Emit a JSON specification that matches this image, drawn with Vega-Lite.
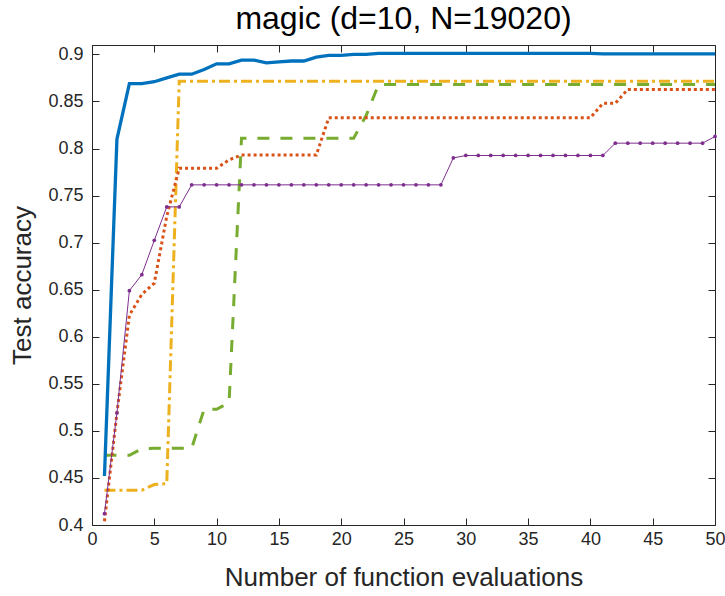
{
  "$schema": "https://vega.github.io/schema/vega-lite/v6.json",
  "width": 623,
  "height": 480,
  "autosize": {"type": "none"},
  "padding": {"left": 92, "top": 45, "right": 10, "bottom": 71},
  "background": "white",
  "title": {"text": "magic (d=10, N=19020)", "font": "Liberation Sans", "fontSize": 32, "fontWeight": "normal", "color": "#000000", "offset": 9, "anchor": "middle"},
  "config": {
    "view": {"stroke": "#262626", "strokeWidth": 1},
    "axis": {"grid": false, "labelFlush": false, "domainColor": "#262626", "tickColor": "#262626", "labelColor": "#262626", "titleColor": "#262626", "labelFont": "Liberation Sans", "titleFont": "Liberation Sans", "labelFontSize": 18, "titleFontSize": 26, "titleFontWeight": "normal", "tickSize": -7, "tickWidth": 1, "domainWidth": 1}
  },
  "datasets": {
    "blue": [
      {"x":1,"y":0.452},{"x":2,"y":0.810},{"x":3,"y":0.869},{"x":4,"y":0.869},{"x":5,"y":0.871},{"x":6,"y":0.875},{"x":7,"y":0.879},{"x":8,"y":0.879},{"x":9,"y":0.884},{"x":10,"y":0.890},
      {"x":11,"y":0.890},{"x":12,"y":0.894},{"x":13,"y":0.894},{"x":14,"y":0.891},{"x":15,"y":0.892},{"x":16,"y":0.893},{"x":17,"y":0.893},{"x":18,"y":0.897},{"x":19,"y":0.899},{"x":20,"y":0.899},
      {"x":21,"y":0.900},{"x":22,"y":0.900},{"x":23,"y":0.901},{"x":24,"y":0.901},{"x":25,"y":0.901},{"x":26,"y":0.901},{"x":27,"y":0.901},{"x":28,"y":0.901},{"x":29,"y":0.901},{"x":30,"y":0.901},
      {"x":31,"y":0.901},{"x":32,"y":0.901},{"x":33,"y":0.901},{"x":34,"y":0.901},{"x":35,"y":0.901},{"x":36,"y":0.901},{"x":37,"y":0.901},{"x":38,"y":0.901},{"x":39,"y":0.901},{"x":40,"y":0.901},
      {"x":41,"y":0.9005},{"x":42,"y":0.9005},{"x":43,"y":0.9005},{"x":44,"y":0.9005},{"x":45,"y":0.9005},{"x":46,"y":0.9005},{"x":47,"y":0.9005},{"x":48,"y":0.9005},{"x":49,"y":0.9005},{"x":50,"y":0.9005}
    ],
    "yellow": [
      {"x":1,"y":0.437},{"x":2,"y":0.437},{"x":3,"y":0.437},{"x":4,"y":0.437},{"x":5,"y":0.443},{"x":6,"y":0.444},{"x":7,"y":0.8716},{"x":8,"y":0.8716},{"x":9,"y":0.8716},{"x":10,"y":0.8716},
      {"x":11,"y":0.8716},{"x":12,"y":0.8716},{"x":13,"y":0.8716},{"x":14,"y":0.8716},{"x":15,"y":0.8716},{"x":16,"y":0.8716},{"x":17,"y":0.8716},{"x":18,"y":0.8716},{"x":19,"y":0.8716},{"x":20,"y":0.8716},
      {"x":21,"y":0.8716},{"x":22,"y":0.8716},{"x":23,"y":0.8716},{"x":24,"y":0.8716},{"x":25,"y":0.8716},{"x":26,"y":0.8716},{"x":27,"y":0.8716},{"x":28,"y":0.8716},{"x":29,"y":0.8716},{"x":30,"y":0.8716},
      {"x":31,"y":0.8716},{"x":32,"y":0.8716},{"x":33,"y":0.8716},{"x":34,"y":0.8716},{"x":35,"y":0.8716},{"x":36,"y":0.8716},{"x":37,"y":0.8716},{"x":38,"y":0.8716},{"x":39,"y":0.8716},{"x":40,"y":0.8716},
      {"x":41,"y":0.8716},{"x":42,"y":0.8716},{"x":43,"y":0.8716},{"x":44,"y":0.8716},{"x":45,"y":0.8716},{"x":46,"y":0.8716},{"x":47,"y":0.8716},{"x":48,"y":0.8716},{"x":49,"y":0.8716},{"x":50,"y":0.8716}
    ],
    "green": [
      {"x":1,"y":0.474},{"x":2,"y":0.474},{"x":3,"y":0.474},{"x":4,"y":0.481},{"x":5,"y":0.4816},{"x":6,"y":0.4816},{"x":7,"y":0.4816},{"x":8,"y":0.4816},{"x":9,"y":0.523},{"x":10,"y":0.523},
      {"x":11,"y":0.53},{"x":12,"y":0.811},{"x":13,"y":0.811},{"x":14,"y":0.811},{"x":15,"y":0.811},{"x":16,"y":0.811},{"x":17,"y":0.811},{"x":18,"y":0.811},{"x":19,"y":0.811},{"x":20,"y":0.811},
      {"x":21,"y":0.811},{"x":22,"y":0.835},{"x":23,"y":0.868},{"x":24,"y":0.868},{"x":25,"y":0.868},{"x":26,"y":0.868},{"x":27,"y":0.868},{"x":28,"y":0.868},{"x":29,"y":0.868},{"x":30,"y":0.868},
      {"x":31,"y":0.868},{"x":32,"y":0.868},{"x":33,"y":0.868},{"x":34,"y":0.868},{"x":35,"y":0.868},{"x":36,"y":0.868},{"x":37,"y":0.868},{"x":38,"y":0.868},{"x":39,"y":0.868},{"x":40,"y":0.868},
      {"x":41,"y":0.868},{"x":42,"y":0.868},{"x":43,"y":0.868},{"x":44,"y":0.868},{"x":45,"y":0.868},{"x":46,"y":0.868},{"x":47,"y":0.868},{"x":48,"y":0.868},{"x":49,"y":0.868},{"x":50,"y":0.868}
    ],
    "red": [
      {"x":1,"y":0.404},{"x":2,"y":0.519},{"x":3,"y":0.623},{"x":4,"y":0.645},{"x":5,"y":0.657},{"x":6,"y":0.728},{"x":7,"y":0.779},{"x":8,"y":0.779},{"x":9,"y":0.779},{"x":10,"y":0.779},
      {"x":11,"y":0.788},{"x":12,"y":0.793},{"x":13,"y":0.793},{"x":14,"y":0.793},{"x":15,"y":0.793},{"x":16,"y":0.793},{"x":17,"y":0.793},{"x":18,"y":0.793},{"x":19,"y":0.8326},{"x":20,"y":0.8326},
      {"x":21,"y":0.8326},{"x":22,"y":0.8326},{"x":23,"y":0.8326},{"x":24,"y":0.8326},{"x":25,"y":0.8326},{"x":26,"y":0.8326},{"x":27,"y":0.8326},{"x":28,"y":0.8326},{"x":29,"y":0.8326},{"x":30,"y":0.8326},
      {"x":31,"y":0.8326},{"x":32,"y":0.8326},{"x":33,"y":0.8326},{"x":34,"y":0.8326},{"x":35,"y":0.8326},{"x":36,"y":0.8326},{"x":37,"y":0.8326},{"x":38,"y":0.8326},{"x":39,"y":0.8326},{"x":40,"y":0.8326},
      {"x":41,"y":0.848},{"x":42,"y":0.848},{"x":43,"y":0.8628},{"x":44,"y":0.8628},{"x":45,"y":0.8628},{"x":46,"y":0.8628},{"x":47,"y":0.8628},{"x":48,"y":0.8628},{"x":49,"y":0.8628},{"x":50,"y":0.8628}
    ],
    "purple": [
      {"x":1,"y":0.412},{"x":2,"y":0.519},{"x":3,"y":0.649},{"x":4,"y":0.666},{"x":5,"y":0.7025},{"x":6,"y":0.738},{"x":7,"y":0.738},{"x":8,"y":0.7614},{"x":9,"y":0.7614},{"x":10,"y":0.7614},
      {"x":11,"y":0.7614},{"x":12,"y":0.7614},{"x":13,"y":0.7614},{"x":14,"y":0.7614},{"x":15,"y":0.7614},{"x":16,"y":0.7614},{"x":17,"y":0.7614},{"x":18,"y":0.7614},{"x":19,"y":0.7614},{"x":20,"y":0.7614},
      {"x":21,"y":0.7614},{"x":22,"y":0.7614},{"x":23,"y":0.7614},{"x":24,"y":0.7614},{"x":25,"y":0.7614},{"x":26,"y":0.7614},{"x":27,"y":0.7614},{"x":28,"y":0.7614},{"x":29,"y":0.790},{"x":30,"y":0.7926},
      {"x":31,"y":0.7926},{"x":32,"y":0.7926},{"x":33,"y":0.7926},{"x":34,"y":0.7926},{"x":35,"y":0.7926},{"x":36,"y":0.7926},{"x":37,"y":0.7926},{"x":38,"y":0.7926},{"x":39,"y":0.7926},{"x":40,"y":0.7926},
      {"x":41,"y":0.7926},{"x":42,"y":0.8057},{"x":43,"y":0.8057},{"x":44,"y":0.8057},{"x":45,"y":0.8057},{"x":46,"y":0.8057},{"x":47,"y":0.8057},{"x":48,"y":0.8057},{"x":49,"y":0.8057},{"x":50,"y":0.8128}
    ]
  },
  "resolve": {"scale": {"x": "independent", "y": "independent"}},
  "layer": [
    {
      "encoding": {
        "x": {"field": "x", "type": "quantitative", "scale": {"domain": [0, 50], "nice": false, "zero": false},
              "axis": {"values": [0,5,10,15,20,25,30,35,40,45,50], "title": "Number of function evaluations", "labelPadding": 12, "titlePadding": 16}},
        "y": {"field": "y", "type": "quantitative", "scale": {"domain": [0.4, 0.91], "nice": false, "zero": false},
              "axis": {"values": [0.4,0.45,0.5,0.55,0.6,0.65,0.7,0.75,0.8,0.85,0.9], "title": "Test accuracy", "labelPadding": 16, "titlePadding": 12, "labelExpr": "format(datum.value, '.3~g')"}}
      },
      "layer": [
        {"data": {"name": "green"}, "mark": {"type": "line", "color": "#77AC30", "strokeWidth": 3, "strokeDash": [12, 11], "strokeCap": "butt"}},
        {"data": {"name": "yellow"}, "mark": {"type": "line", "color": "#EDB120", "strokeWidth": 3, "strokeDash": [11, 4, 3, 4], "strokeCap": "butt"}},
        {"data": {"name": "red"}, "mark": {"type": "line", "color": "#D95319", "strokeWidth": 3, "strokeDash": [3, 3], "strokeCap": "butt"}},
        {"data": {"name": "purple"}, "mark": {"type": "line", "color": "#7E2F8E", "strokeWidth": 1, "point": {"filled": true, "size": 14, "color": "#7E2F8E"}}},
        {"data": {"name": "blue"}, "mark": {"type": "line", "color": "#0072BD", "strokeWidth": 3.3}}
      ]
    },
    {
      "data": {"name": "blue"},
      "mark": {"type": "point", "opacity": 0},
      "encoding": {
        "x": {"field": "x", "type": "quantitative", "scale": {"domain": [0, 50], "nice": false, "zero": false},
              "axis": {"orient": "top", "values": [0,5,10,15,20,25,30,35,40,45,50], "labels": false, "title": null, "domain": false}},
        "y": {"field": "y", "type": "quantitative", "scale": {"domain": [0.4, 0.91], "nice": false, "zero": false},
              "axis": {"orient": "right", "values": [0.4,0.45,0.5,0.55,0.6,0.65,0.7,0.75,0.8,0.85,0.9], "labels": false, "title": null, "domain": false}}
      }
    }
  ]
}
